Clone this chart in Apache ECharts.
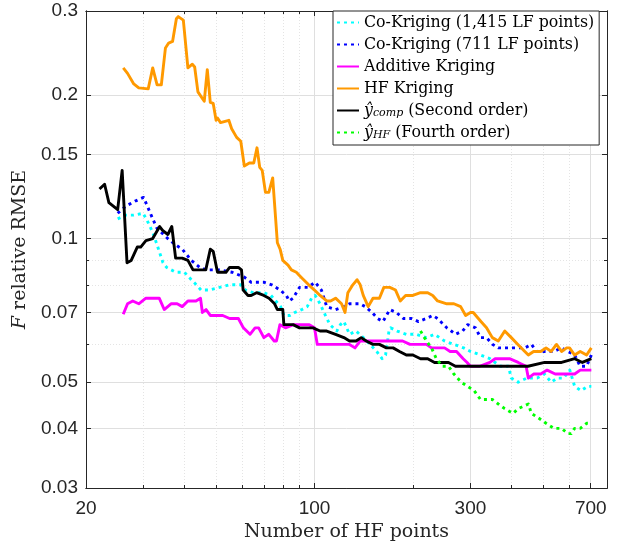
<!DOCTYPE html>
<html><head><meta charset="utf-8">
<script src="https://cdn.jsdelivr.net/npm/echarts@6/dist/echarts.min.js"></script>
<style>html,body{margin:0;padding:0;background:#fff}#c{width:622px;height:549px}</style>
</head><body><div id="c"></div>
<script>
// ---- tick values ----
const xTicksMajor = [20, 100, 300, 700];
const xTicksMinor = [30, 40, 50, 60, 70, 80, 90, 200, 400, 500, 600];
const yTicksMajor = [0.03, 0.04, 0.05, 0.07, 0.1, 0.15, 0.2, 0.3];
const yTicksMinor = [0.06, 0.08, 0.09];

// ---- series names ----
const seriesNames = ['Co-Kriging (1,415 LF points)', 'Co-Kriging (711 LF points)', 'Additive Kriging', 'HF Kriging', 'ŷcomp (Second order)', 'ŷHF (Fourth order)'];

// ---- Co-Kriging (1,415 LF points) ----
const ck1415X = [25,26.5,28,29.9,30.8,32,33,34.4,35.3,37.6,40,42,43.5,45,47.5,51.2,55,59.5,61.5,65,70,73.6,78.8,80.6,84,87,91.5,95,98,100.5,104,108,111.5,117,120,123,128,134,141,148,155,161,165,169,171,179,191,205,220,233,250,267,286,300,322,344,370,392,400,420,446,480,505,530,553,578,604,625,654,685,703];
const ck1415Y = [0.110,0.112,0.112,0.113,0.109,0.103,0.097,0.089,0.087,0.085,0.085,0.082,0.080,0.078,0.078,0.079,0.080,0.080,0.078,0.077,0.077,0.076,0.072,0.069,0.069,0.070,0.071,0.072,0.075,0.076,0.073,0.069,0.066,0.064,0.066,0.067,0.063,0.064,0.062,0.060,0.058,0.056,0.057,0.064,0.065,0.064,0.063,0.063,0.062,0.063,0.061,0.060,0.059,0.058,0.057,0.056,0.054,0.054,0.051,0.050,0.051,0.051,0.052,0.050,0.051,0.051,0.053,0.049,0.048,0.049,0.049];

// ---- Co-Kriging (711 LF points) ----
const ck711X = [25,26.5,28.4,30,30.8,32,33,35.6,37.6,39.4,42,44.6,46.6,51,56,61,64,70,74,78.5,82,83.7,86,90,95.5,100.5,105,109,116,123,128,133,138,143,150,156,162,170,178,187,198,208,220,230,238,254,262,270,284,294,311,322,336,351,365,392,410,424,440,461,478,515,540,570,596,625,650,680,703];
const ck711Y = [0.113,0.117,0.120,0.122,0.117,0.110,0.105,0.100,0.097,0.095,0.090,0.087,0.086,0.086,0.085,0.083,0.081,0.081,0.080,0.078,0.076,0.074,0.075,0.079,0.079,0.081,0.078,0.072,0.071,0.072,0.073,0.073,0.073,0.072,0.070,0.068,0.067,0.071,0.070,0.068,0.068,0.067,0.068,0.069,0.068,0.065,0.064,0.063,0.064,0.066,0.065,0.062,0.062,0.060,0.059,0.059,0.059,0.059,0.059,0.060,0.058,0.058,0.058,0.059,0.058,0.057,0.054,0.054,0.057];

// ---- Additive Kriging ----
const addX = [26,26.8,27.8,29,30.5,32,33.5,34.7,36.4,38,39.4,41,43.4,44.8,45.4,46.6,48,50,52.4,55,58.5,60.6,63.5,65.8,67.5,70,72.5,75.3,76.5,78.4,81.5,86.3,90.5,96.4,100,102,110,120,128,133,138,148,158,166,176,186,196,205,220,228,238,250,260,272,285,293,300,320,344,357,380,395,420,444,451,468,492,515,545,570,597,625,650,680,703];
const addY = [0.0694,0.073,0.074,0.073,0.075,0.075,0.075,0.071,0.073,0.073,0.072,0.074,0.074,0.075,0.070,0.071,0.069,0.069,0.069,0.068,0.068,0.065,0.063,0.065,0.065,0.062,0.063,0.061,0.061,0.066,0.065,0.066,0.066,0.066,0.065,0.060,0.060,0.060,0.060,0.059,0.061,0.061,0.061,0.061,0.061,0.061,0.060,0.060,0.060,0.059,0.059,0.059,0.058,0.058,0.056,0.055,0.054,0.054,0.055,0.056,0.056,0.056,0.055,0.054,0.051,0.052,0.052,0.053,0.052,0.052,0.052,0.052,0.053,0.053,0.053];

// ---- HF Kriging ----
const hfkX = [26,26.8,28,29,31,32,33,34,35,35.8,36.8,37.8,38.3,39.7,41,42.3,43,44,46,47,48,49,50,50.5,51.6,54.7,55.8,57.8,59.5,61,63.2,65.2,66.7,68,69.2,70.8,72.5,74.5,77,78.5,80,83,85,88,91,96,100,104,109,112,116,121,124,126.5,131,135,138,141,146,151,158,163,170,177,183,190,200,211,222,230,238,254,267,280,290,300,306,323,336,350,365,382,400,419,440,451,468,492,511,530,550,570,591,603,625,650,680,703];
const hfkY = [0.228,0.222,0.211,0.207,0.206,0.228,0.210,0.210,0.251,0.257,0.259,0.289,0.292,0.287,0.228,0.232,0.229,0.203,0.194,0.226,0.193,0.192,0.177,0.179,0.175,0.177,0.170,0.163,0.160,0.142,0.144,0.144,0.155,0.141,0.139,0.125,0.125,0.134,0.098,0.095,0.090,0.088,0.086,0.085,0.083,0.080,0.078,0.076,0.074,0.074,0.075,0.073,0.070,0.077,0.080,0.082,0.080,0.076,0.072,0.075,0.075,0.079,0.079,0.078,0.074,0.076,0.076,0.077,0.077,0.076,0.074,0.073,0.073,0.072,0.069,0.070,0.070,0.067,0.065,0.062,0.061,0.064,0.062,0.060,0.058,0.057,0.058,0.058,0.059,0.058,0.060,0.058,0.059,0.059,0.057,0.058,0.057,0.059];

// ---- y_comp (Second order) ----
const compX = [22,22.8,23.5,25,25.8,26.7,27.5,28.7,29.4,30.5,32,33.6,34.3,35.6,36.6,37.6,39.4,41,42.5,45,46.5,48,49,50.5,53.6,55,58.5,59.8,60.5,62.6,64,66.5,70,72.6,75.5,77,80,80.6,83,86,90,94.5,99,104,109,116,123,128,134,139,144,151,158,166,174,182,191,200,211,222,233,245,257,270,281,295,320,350,400,450,506,570,625,660,703];
const compY = [0.127,0.130,0.119,0.115,0.139,0.089,0.090,0.096,0.096,0.099,0.100,0.106,0.104,0.102,0.106,0.091,0.091,0.090,0.086,0.086,0.086,0.095,0.094,0.085,0.085,0.087,0.087,0.086,0.078,0.076,0.076,0.077,0.076,0.075,0.073,0.071,0.071,0.066,0.066,0.066,0.065,0.065,0.065,0.064,0.064,0.063,0.062,0.061,0.061,0.062,0.061,0.060,0.060,0.059,0.059,0.058,0.057,0.057,0.056,0.056,0.055,0.055,0.055,0.054,0.054,0.054,0.054,0.054,0.054,0.054,0.055,0.055,0.056,0.055,0.056];

// ---- y_HF (Fourth order) ----
const hf4X = [211,220,228,236,246,257,267,281,294,308,322,336,350,365,382,405,420,451,461,486,511,540,570,596,610,625,650,680,703];
const hf4Y = [0.064,0.061,0.059,0.056,0.054,0.054,0.052,0.050,0.049,0.048,0.046,0.046,0.046,0.045,0.044,0.043,0.044,0.045,0.043,0.042,0.041,0.040,0.040,0.039,0.039,0.040,0.040,0.041,0.041];

function pairs(xs, ys) { return xs.map((x, i) => [x, ys[i]]); }

const AX = '#262626';
const X_MIN = 20, X_MAX = 785, Y_MIN = 0.03, Y_MAX = 0.3;

function xAxisDef(pos, ticks, len, labels, split) {
  return {
    type: 'log', logBase: 10, min: X_MIN, max: X_MAX, position: pos,
    axisLine: { show: true, onZero: false, lineStyle: { color: AX, width: 1 } },
    axisTick: { show: true, inside: true, length: len, customValues: ticks, lineStyle: { color: AX, width: 1 } },
    axisLabel: labels ? { show: true, customValues: ticks, color: AX, fontFamily: 'Liberation Sans', fontSize: 19, margin: 11 } : { show: false },
    splitLine: split ? { show: true, lineStyle: split } : { show: false },
    minorTick: { show: false }, minorSplitLine: { show: false }
  };
}
function yAxisDef(pos, ticks, len, labels, split) {
  return {
    type: 'log', logBase: 10, min: Y_MIN, max: Y_MAX, position: pos,
    axisLine: { show: true, onZero: false, lineStyle: { color: AX, width: 1 } },
    axisTick: { show: true, inside: true, length: len, customValues: ticks, lineStyle: { color: AX, width: 1 } },
    axisLabel: labels ? { show: true, customValues: ticks, color: AX, fontFamily: 'Liberation Sans', fontSize: 19, margin: 8 } : { show: false },
    splitLine: split ? { show: true, lineStyle: split } : { show: false },
    minorTick: { show: false }, minorSplitLine: { show: false }
  };
}

const majorGrid = { color: '#dfdfdf', width: 1, type: 'solid' };
const minorGrid = { color: '#e4e4e4', width: 1, type: [1, 2] };

const xAxes = [
  Object.assign(xAxisDef('bottom', xTicksMajor, 5, true, majorGrid), {
    name: 'Number of HF points', nameLocation: 'middle', nameGap: 32,
    nameTextStyle: { fontFamily: 'DejaVu Serif', fontSize: 19, color: AX }
  }),
  xAxisDef('top', xTicksMajor, 5, false, null),
  xAxisDef('bottom', xTicksMinor, 3, false, minorGrid),
  xAxisDef('top', xTicksMinor, 3, false, null)
];
const yAxes = [
  Object.assign(yAxisDef('left', yTicksMajor, 5, true, majorGrid), {
    name: '{i|F} relative RMSE', nameLocation: 'middle', nameGap: 56, nameRotate: 90,
    nameTextStyle: { fontFamily: 'DejaVu Serif', fontSize: 19, color: AX,
      rich: { i: { fontFamily: 'DejaVu Serif', fontStyle: 'italic', fontSize: 19, color: AX } } }
  }),
  yAxisDef('right', yTicksMajor, 5, false, null),
  yAxisDef('left', yTicksMinor, 3, false, minorGrid),
  yAxisDef('right', yTicksMinor, 3, false, null)
];

const colors = ['#00ffff', '#0000ff', '#ff00ff', '#ff9900', '#000000', '#00ff00'];
const dotted = [3, 4];
const dataSets = [pairs(ck1415X, ck1415Y), pairs(ck711X, ck711Y), pairs(addX, addY), pairs(hfkX, hfkY), pairs(compX, compY), pairs(hf4X, hf4Y)];
const lineTypes = [dotted, dotted, 'solid', 'solid', 'solid', dotted];

const series = dataSets.map((d, i) => ({
  name: seriesNames[i], type: 'line', data: d, symbol: 'none', showSymbol: false,
  xAxisIndex: 0, yAxisIndex: 0, animation: false, silent: true,
  lineStyle: { color: colors[i], width: 2.9, type: lineTypes[i], cap: 'butt', join: 'round' },
  itemStyle: { color: colors[i] }
}));

const chart = echarts.init(document.getElementById('c'), null, { renderer: 'canvas' });
chart.setOption({
  animation: false,
  backgroundColor: '#ffffff',
  grid: { left: 86, right: 15, top: 11, bottom: 61, containLabel: false },
  xAxis: xAxes,
  yAxis: yAxes,
  legend: {
    orient: 'vertical', left: 333, top: 11, itemWidth: 22, itemHeight: 12, itemGap: 5,
    padding: [3, 5, 4, 3], backgroundColor: '#ffffff', borderColor: '#262626', borderWidth: 1, borderRadius: 0,
    itemStyle: { opacity: 0, borderWidth: 0 },
    data: seriesNames,
    formatter: function (n) {
      if (n.indexOf('ŷcomp') === 0) return '{it|ŷ}{sub|comp}' + n.slice(5);
      if (n.indexOf('ŷHF') === 0) return '{it|ŷ}{sub|HF}' + n.slice(3);
      return n;
    },
    textStyle: { fontFamily: 'DejaVu Serif', fontSize: 15.8, color: '#000', lineHeight: 17,
      rich: {
        it: { fontFamily: 'DejaVu Serif', fontStyle: 'italic', fontSize: 15.8, color: '#000', lineHeight: 17 },
        sub: { fontFamily: 'DejaVu Serif', fontStyle: 'italic', fontSize: 11, color: '#000', verticalAlign: 'bottom', lineHeight: 11 }
      } }
  },
  series: series
});
</script>
</body></html>
